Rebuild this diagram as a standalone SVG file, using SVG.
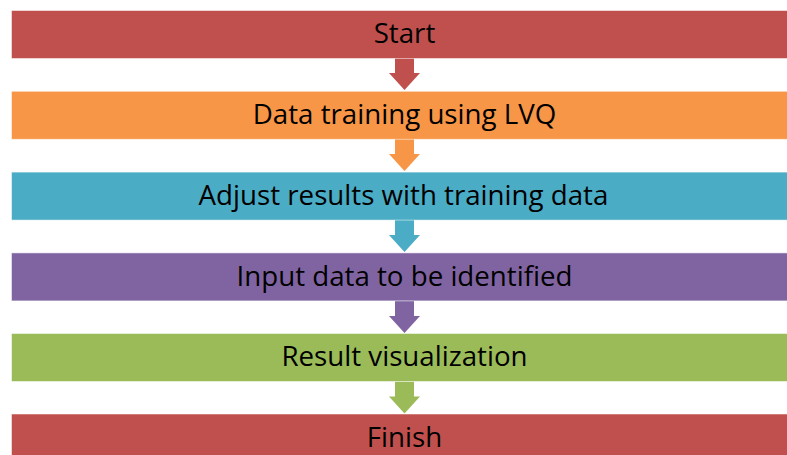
<svg xmlns="http://www.w3.org/2000/svg" width="787" height="455" viewBox="0 0 787 455">
  <style>
    .box { stroke: #ffffff; stroke-opacity: 0.5; stroke-width: 1; }
    .lbl { font-family: "Open Sans", "Liberation Sans", Arial, sans-serif; font-size: 27.7px; fill: #000000; text-anchor: middle; }
    .red { fill: #C0504D; }
    .orange { fill: #F79646; }
    .teal { fill: #4BACC6; }
    .purple { fill: #8064A2; }
    .green { fill: #9BBB59; }
  </style>
  <defs>
    <!-- block arrow pointing down, origin at top centre -->
    <path id="down" d="M -9.5 0 H 9.5 V 15 H 15.5 L 0 32 L -15.5 15 H -9.5 Z"/>
  </defs>
  <rect width="787" height="455" fill="#ffffff"/>

  <g id="connectors">
    <use href="#down" x="404.5" y="58" class="red"/>
    <use href="#down" x="404.5" y="139" class="orange"/>
    <use href="#down" x="404.5" y="220" class="teal"/>
    <use href="#down" x="404.5" y="301" class="purple"/>
    <use href="#down" x="404.5" y="381.5" class="green"/>
  </g>

  <g id="start">
    <rect class="box red" x="11.5" y="10.5" width="790" height="48"/>
    <text class="lbl" x="404.5" y="43.3">Start</text>
  </g>
  <g id="training">
    <rect class="box orange" x="11.5" y="91.3" width="790" height="48"/>
    <text class="lbl" x="404.5" y="124.1">Data training using LVQ</text>
  </g>
  <g id="adjust">
    <rect class="box teal" x="11.5" y="172.1" width="790" height="48"/>
    <text class="lbl" x="403.5" y="204.8">Adjust results with training data</text>
  </g>
  <g id="input">
    <rect class="box purple" x="11.5" y="252.9" width="790" height="48"/>
    <text class="lbl" x="404.5" y="285.6">Input data to be identified</text>
  </g>
  <g id="visualization">
    <rect class="box green" x="11.5" y="333.5" width="790" height="48"/>
    <text class="lbl" x="404.5" y="366.3">Result visualization</text>
  </g>
  <g id="finish">
    <rect class="box red" x="11.5" y="414" width="790" height="48"/>
    <text class="lbl" x="404.5" y="446.8">Finish</text>
  </g>
</svg>
